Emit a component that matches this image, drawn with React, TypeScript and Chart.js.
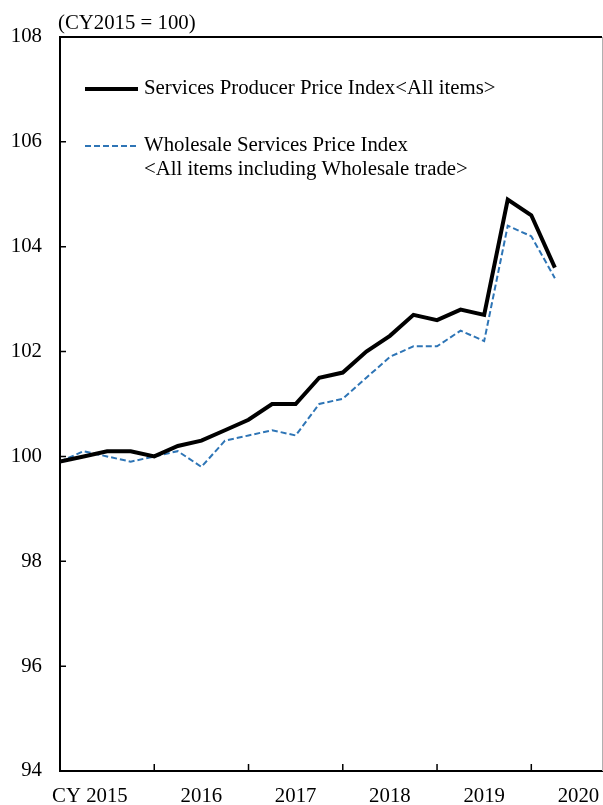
import { useEffect, useRef } from 'react';
import { Chart, registerables } from 'chart.js';

Chart.register(...registerables);

const quarters = [
  '2015Q1', '2015Q2', '2015Q3', '2015Q4',
  '2016Q1', '2016Q2', '2016Q3', '2016Q4',
  '2017Q1', '2017Q2', '2017Q3', '2017Q4',
  '2018Q1', '2018Q2', '2018Q3', '2018Q4',
  '2019Q1', '2019Q2', '2019Q3', '2019Q4',
  '2020Q1', '2020Q2',
];
const sppi = [
  99.9, 100.0, 100.1, 100.1,
  100.0, 100.2, 100.3, 100.5,
  100.7, 101.0, 101.0, 101.5,
  101.6, 102.0, 102.3, 102.7,
  102.6, 102.8, 102.7, 104.9,
  104.6, 103.6,
];
const wspi = [
  99.9, 100.1, 100.0, 99.9,
  100.0, 100.1, 99.8, 100.3,
  100.4, 100.5, 100.4, 101.0,
  101.1, 101.5, 101.9, 102.1,
  102.1, 102.4, 102.2, 104.4,
  104.2, 103.4,
];
const yearLabels = ['CY 2015', '2016', '2017', '2018', '2019', '2020'];
const yearLabelPositions = [1.27, 6, 10, 14, 18, 22];
const yearTickPositions = [4, 8, 12, 16, 20];
const yTicks = [94, 96, 98, 100, 102, 104, 106, 108];
const seriesNames = ['Services Producer Price Index<All items>'];
const seriesNames2 = ['Wholesale Services Price Index', '<All items including Wholesale trade>'];
const unitLabel = '(CY2015 = 100)';

const FONT = '"Liberation Serif", "Times New Roman", serif';
const FSIZE = 20.8;
const BLUE = '#2E75B6';

export default function App() {
  const ref = useRef<HTMLCanvasElement | null>(null);

  useEffect(() => {
    const canvas = ref.current;
    if (!canvas) return;

    const decor = {
      id: 'decor',
      afterDraw(chart: any) {
        const { ctx, chartArea } = chart;
        const xs = chart.scales.x;
        const ys = chart.scales.y;
        ctx.save();
        // top border
        ctx.strokeStyle = '#000';
        ctx.lineWidth = 2;
        ctx.beginPath();
        ctx.moveTo(chartArea.left, chartArea.top);
        ctx.lineTo(chartArea.right, chartArea.top);
        ctx.stroke();
        // right border
        ctx.strokeStyle = '#b0b0b0';
        ctx.lineWidth = 1;
        ctx.beginPath();
        ctx.moveTo(chartArea.right + 0.5, chartArea.top);
        ctx.lineTo(chartArea.right + 0.5, chartArea.bottom);
        ctx.stroke();
        // inward tick marks
        ctx.strokeStyle = '#000';
        ctx.lineWidth = 1.5;
        ctx.beginPath();
        yearTickPositions.forEach((v) => {
          const px = xs.getPixelForValue(v);
          ctx.moveTo(px, chartArea.bottom);
          ctx.lineTo(px, chartArea.bottom - 7);
        });
        yTicks.forEach((v) => {
          const py = ys.getPixelForValue(v);
          ctx.moveTo(chartArea.left, py);
          ctx.lineTo(chartArea.left + 6, py);
        });
        ctx.stroke();
        // unit label
        ctx.fillStyle = '#000';
        ctx.font = `${FSIZE}px ${FONT}`;
        ctx.textAlign = 'left';
        ctx.textBaseline = 'middle';
        ctx.fillText(unitLabel, 58, 24);
        // legend
        ctx.lineWidth = 4;
        ctx.strokeStyle = '#000';
        ctx.beginPath();
        ctx.moveTo(85, 89);
        ctx.lineTo(138, 89);
        ctx.stroke();
        ctx.fillText(seriesNames[0], 144, 89);
        ctx.lineWidth = 2;
        ctx.strokeStyle = BLUE;
        ctx.setLineDash([6, 3]);
        ctx.beginPath();
        ctx.moveTo(85, 146);
        ctx.lineTo(138, 146);
        ctx.stroke();
        ctx.setLineDash([]);
        ctx.fillText(seriesNames2[0], 144, 146);
        ctx.fillText(seriesNames2[1], 144, 170);
        ctx.restore();
      },
    };

    const chart = new Chart(canvas, {
      type: 'line',
      data: {
        labels: quarters,
        datasets: [
          {
            label: seriesNames[0],
            data: sppi.map((v, i) => ({ x: i, y: v })),
            borderColor: '#000',
            borderWidth: 4,
            pointRadius: 0,
            tension: 0,
            fill: false,
          },
          {
            label: seriesNames2.join(' '),
            data: wspi.map((v, i) => ({ x: i, y: v })),
            borderColor: BLUE,
            borderWidth: 2,
            borderDash: [6, 3],
            pointRadius: 0,
            tension: 0,
            fill: false,
          },
        ],
      },
      options: {
        animation: false,
        responsive: true,
        maintainAspectRatio: false,
        layout: { padding: { top: 37, right: 1, left: 0, bottom: 0 } },
        plugins: {
          legend: { display: false },
          tooltip: { enabled: false },
          title: { display: false },
        },
        scales: {
          x: {
            type: 'linear',
            min: 0,
            max: 23,
            afterFit: (s: any) => {
              s.height = 34;
              s.paddingLeft = 0;
              s.paddingRight = 0;
            },
            afterBuildTicks: (s: any) => {
              s.ticks = yearLabelPositions.map((v) => ({ value: v }));
            },
            grid: { display: true, drawOnChartArea: false, drawTicks: false },
            border: { display: true, color: '#000', width: 2 },
            ticks: {
              autoSkip: false,
              maxRotation: 0,
              padding: 13,
              color: '#000',
              font: { family: FONT, size: FSIZE },
              callback: (_v: any, i: number) => yearLabels[i],
            },
          },
          y: {
            min: 94,
            max: 108,
            afterFit: (s: any) => {
              s.width = 60;
            },
            afterBuildTicks: (s: any) => {
              s.ticks = yTicks.map((v) => ({ value: v }));
            },
            grid: { display: true, drawOnChartArea: false, drawTicks: false },
            border: { display: true, color: '#000', width: 2 },
            ticks: {
              padding: 18,
              color: '#000',
              font: { family: FONT, size: FSIZE },
              callback: (v: any) => String(v),
            },
          },
        },
      },
      plugins: [decor],
    });

    return () => chart.destroy();
  }, []);

  return (
    <div style={{ position: 'absolute', left: 0, top: 0, width: 603, height: 805 }}>
      <canvas ref={ref} />
    </div>
  );
}
